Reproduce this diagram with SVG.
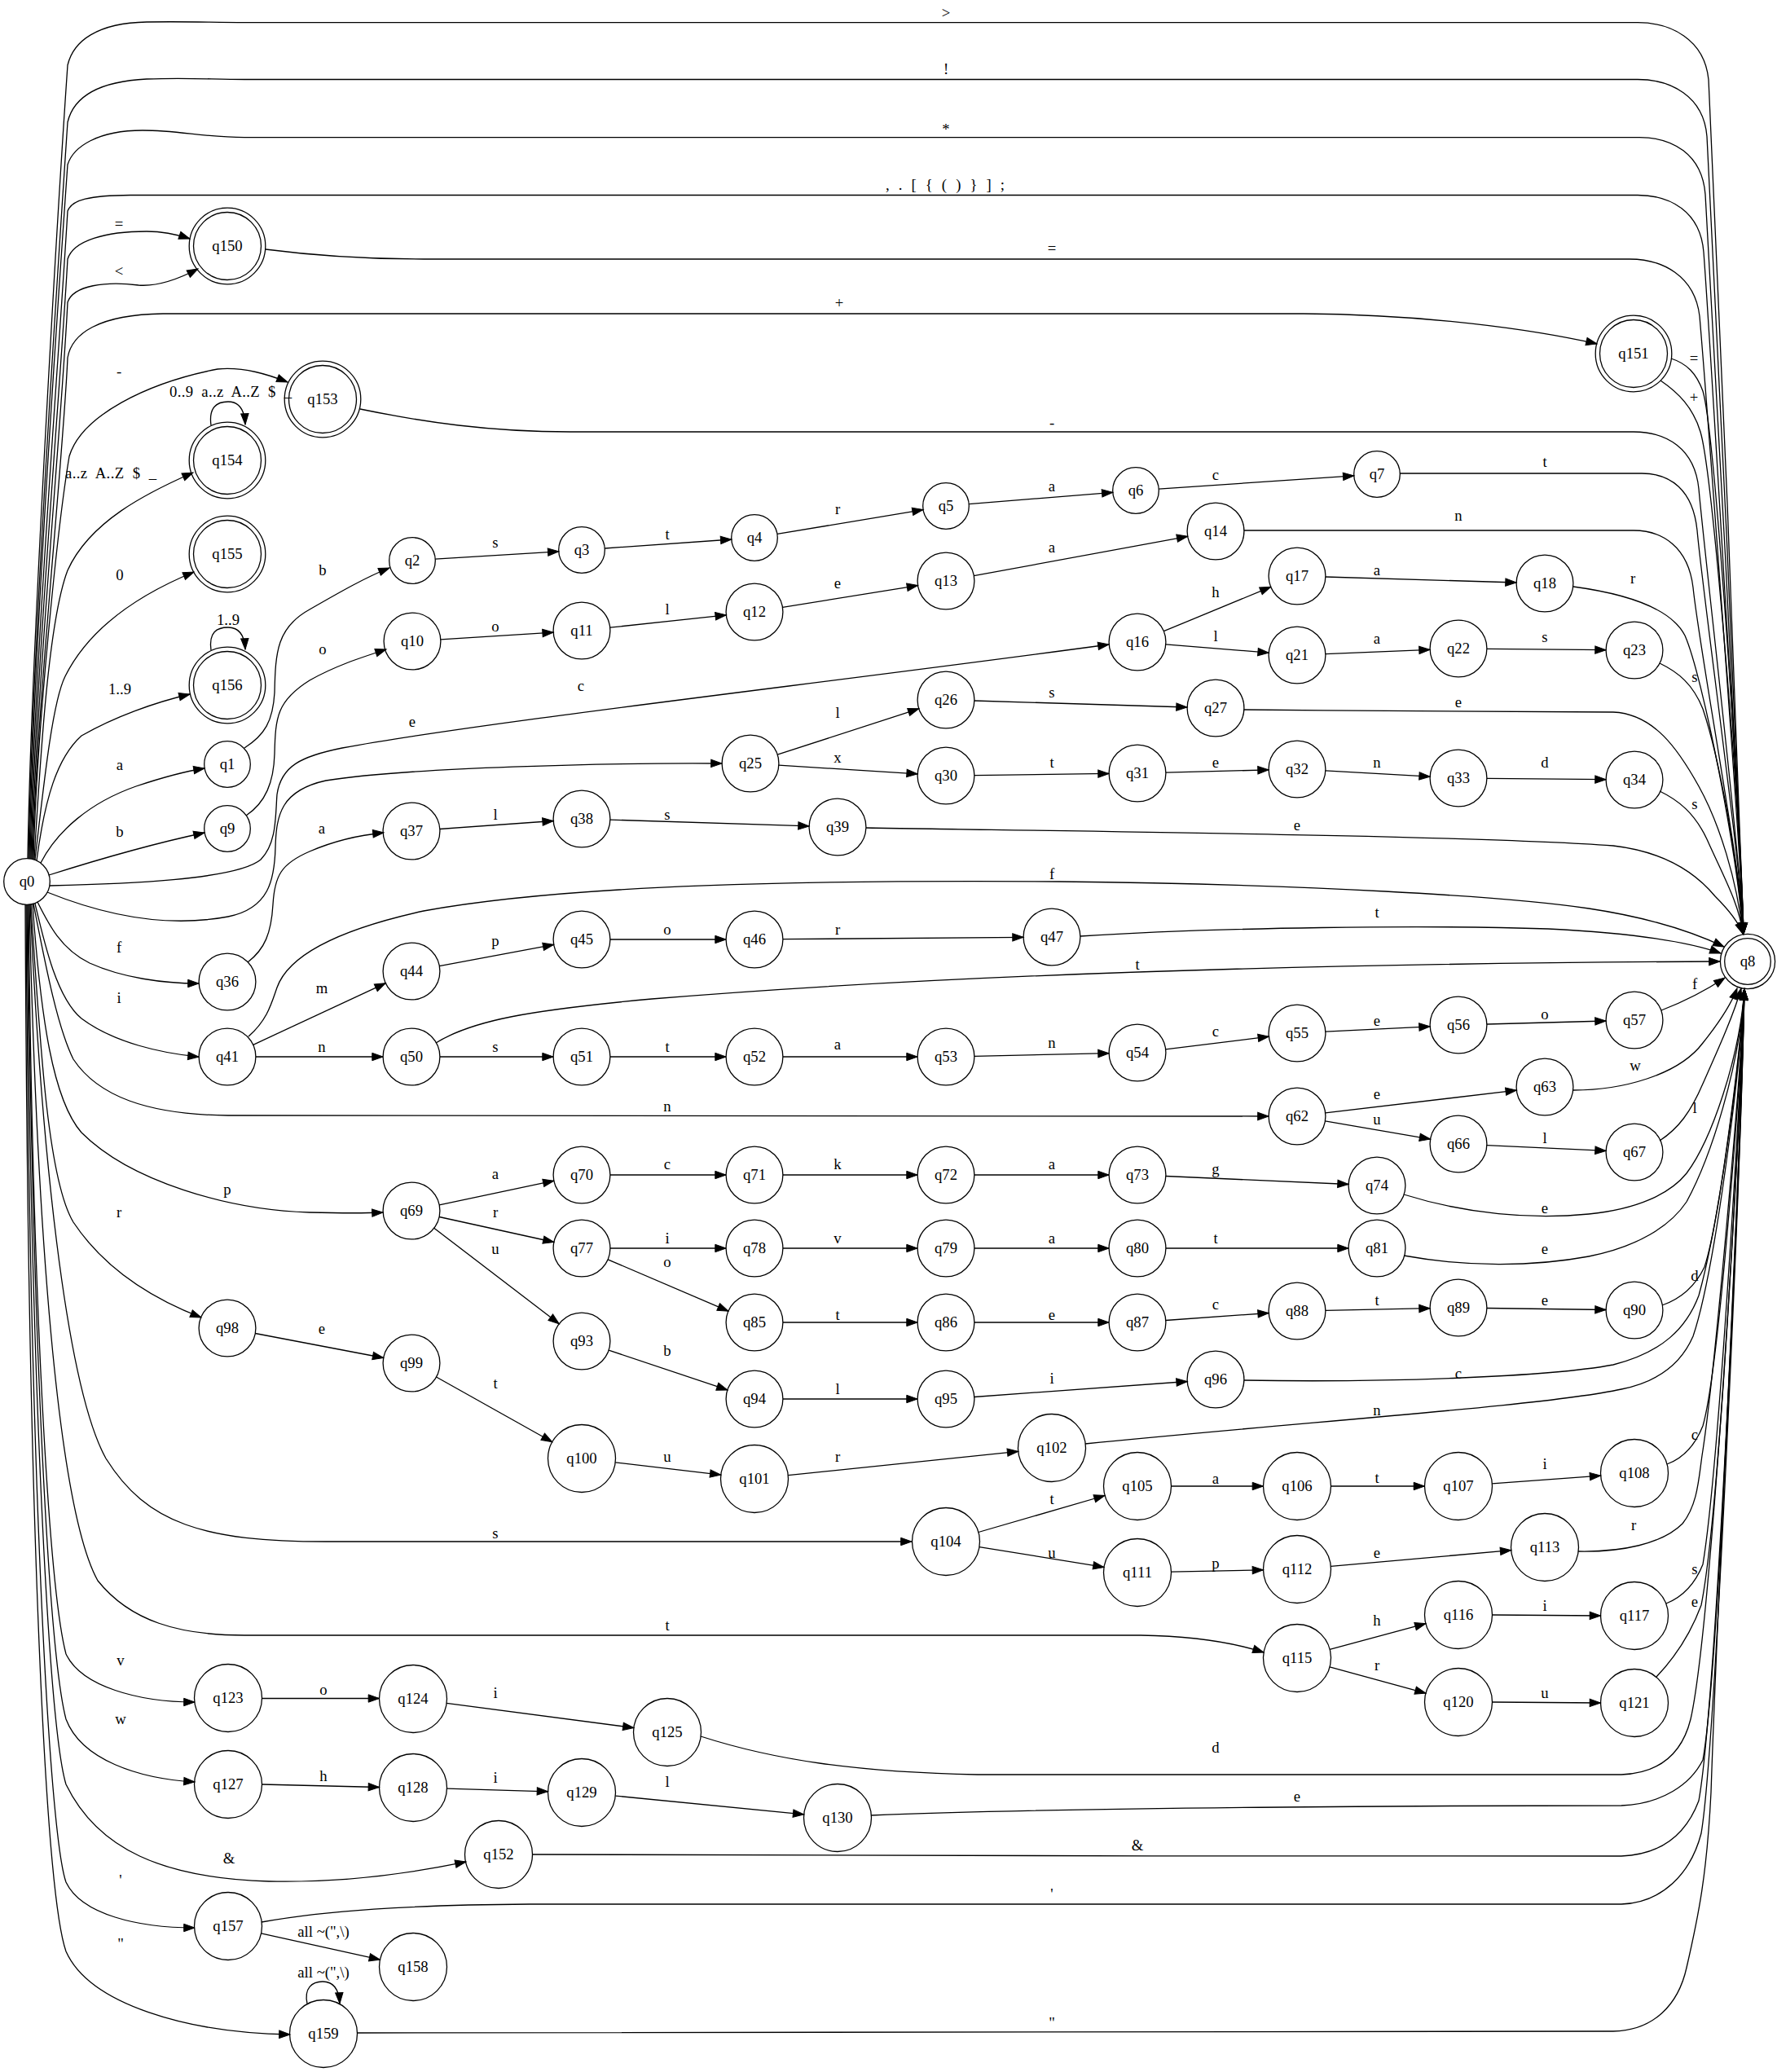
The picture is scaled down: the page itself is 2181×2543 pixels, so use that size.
<svg xmlns="http://www.w3.org/2000/svg" width="2181" height="2543" viewBox="0 0 2181 2543">
<defs>
<style>
.node circle{fill:none;stroke:#000;stroke-width:1.3}
.edge path{fill:none;stroke:#000;stroke-width:1.3;marker-end:url(#arr)}
.edge path.loop{marker-end:url(#arr)}
text{font-family:"Liberation Serif","Times New Roman",serif;font-size:18.7px;fill:#000}
.node text,.edge text{text-anchor:middle}
.edge text.st{text-anchor:start;white-space:pre}
</style>
<marker id="arr" viewBox="0 0 14 10" refX="13.3" refY="4.7" markerWidth="14" markerHeight="10" markerUnits="userSpaceOnUse" orient="auto" overflow="visible"><path d="M0,0 L13.3,4.7 L0,9.4 Z" fill="#000" stroke="#000" stroke-width="1"/></marker>
</defs>
<rect width="2181" height="2543" fill="#fff"/>
<g id="connectors">
<g class="edge"><path d="M34,1054 C38,800 72,240 83,80 C90,50 120,28 180,27 C230,26 260,27.7 300,27.7 L2010,27.7 C2050,27.7 2092,47.7 2097,97.7 C2103,177.7 2139,1080 2140,1146"/><text x="1161" y="22">&gt;</text></g>
<g class="edge"><path d="M35,1054 C39,800 73,300 83,150 C90,120 120,100 180,97 C230,95 260,97.5 300,97.5 L2010,97.5 C2050,97.5 2091,117.5 2095,167.5 C2101,247.5 2139,1080 2140,1146"/><text x="1161" y="91">!</text></g>
<g class="edge"><path d="M36,1054 C40,820 74,330 83,202 C90,180 120,160 175,160 C220,160 250,168.6 300,168.6 L2012,168.6 C2052,168.6 2089,188.6 2093,238.6 C2099,318.6 2139,1080 2140,1146"/><text x="1161" y="165">*</text></g>
<g class="edge"><path d="M37,1054 C41,830 75,400 83,259 C88,245 110,240 160,239.5 L2010,239.5 C2050,239.5 2087,259.5 2091,309.5 C2097,389.5 2139,1080 2140,1146"/><text class="st" x="1087" y="233" textLength="146" lengthAdjust="spacing">,  .  [  {  (  )  }  ]  ;</text></g>
<g class="edge"><path d="M38,1054 C42,850 76,450 83,318 C90,295 130,284 180,284 C200,284 215,287 233,293"/><text x="146" y="281">=</text></g>
<g class="edge"><path d="M39,1054 C43,870 77,500 83,371 C90,350 130,345 170,350 C195,352 220,342 243,330"/><text x="146" y="339">&lt;</text></g>
<g class="edge"><path d="M40,1054 C44,880 78,560 83,439 C88,410 120,386 200,385 L1600,385 C1750,386 1880,404 1960,422"/><text x="1030" y="378">+</text></g>
<g class="edge"><path d="M41,1055 C45,900 70,650 85,560 C100,510 180,470 267,453 C300,450 330,460 353,469"/><text x="146" y="462">-</text></g>
<g class="edge"><path d="M42,1055 C50,920 60,760 83,700 C110,640 180,605 237,580"/><text class="st" x="80" y="587" textLength="112" lengthAdjust="spacing">a..z  A..Z  $  _</text></g>
<g class="edge"><path d="M43,1055 C55,950 65,860 80,830 C110,770 170,730 238,702"/><text x="147" y="712">0</text></g>
<g class="edge"><path d="M45,1056 C55,980 70,930 100,903 C140,880 190,862 233,852"/><text x="147" y="852">1..9</text></g>
<g class="edge"><path d="M50,1059 C70,1020 110,985 167,965 C200,954 225,947 251,943"/><text x="147" y="945">a</text></g>
<g class="edge"><path d="M60,1074 C120,1055 190,1035 251,1022"/><text x="147" y="1027">b</text></g>
<g class="edge"><path d="M61,1087 C150,1085 290,1080 320,1055 C340,1035 338,1000 340,975 C345,940 370,928 420,918 C600,885 1000,840 1361,791"/><text x="713" y="848">c</text></g>
<g class="edge"><path d="M58,1095 C120,1120 200,1140 280,1125 C330,1115 337,1080 338,1040 C339,1000 345,970 400,958 C500,942 750,936 886,937"/><text x="506" y="892">e</text></g>
<g class="edge"><path d="M46,1107 C60,1135 75,1165 110,1182 C150,1200 200,1207 244,1207"/><text x="146" y="1169">f</text></g>
<g class="edge"><path d="M43,1109 C55,1160 70,1225 100,1250 C140,1280 200,1293 244,1297"/><text x="146" y="1231">i</text></g>
<g class="edge"><path d="M41,1109 C55,1180 70,1260 90,1300 C120,1345 180,1368 280,1369 L1557,1370"/><text x="819" y="1364">n</text></g>
<g class="edge"><path d="M40,1110 C50,1250 65,1350 100,1390 C160,1450 280,1485 380,1488 C420,1489 450,1489 470,1488"/><text x="279" y="1466">p</text></g>
<g class="edge"><path d="M38,1110 C50,1300 60,1450 90,1500 C130,1560 190,1595 247,1617"/><text x="146" y="1494">r</text></g>
<g class="edge"><path d="M37,1110 C50,1400 80,1700 130,1790 C180,1870 250,1892 400,1892 L1119,1892"/><text x="608" y="1888">s</text></g>
<g class="edge"><path d="M36,1110 C45,1500 70,1850 120,1940 C160,1990 220,2007 300,2007 L1400,2007 C1470,2008 1520,2018 1551,2028"/><text x="819" y="2001">t</text></g>
<g class="edge"><path d="M35,1110 C40,1600 60,1950 81,2030 C100,2070 170,2089 239,2089"/><text x="148" y="2044">v</text></g>
<g class="edge"><path d="M34,1110 C40,1650 60,2030 81,2110 C100,2160 170,2183 239,2187"/><text x="148" y="2116">w</text></g>
<g class="edge"><path d="M33,1110 C38,1700 60,2120 81,2190 C120,2270 200,2305 330,2309 C420,2311 500,2300 572,2285"/><text x="281" y="2287">&amp;</text></g>
<g class="edge"><path d="M32,1110 C36,1800 60,2250 81,2310 C100,2350 170,2366 239,2366"/><text x="148" y="2314">'</text></g>
<g class="edge"><path d="M31,1110 C34,1850 55,2320 81,2395 C110,2460 230,2495 356,2497"/><text x="148" y="2392">"</text></g>

<g class="edge"><path d="M326,306 C380,313 440,318 520,318 L2000,318 C2040,318 2080,338 2086,388 C2093,470 2139,1080 2140,1146"/><text x="1291" y="311">=</text></g>
<g class="edge"><path d="M2051,440 C2070,446 2082,458 2090,480 C2105,530 2136,1000 2140,1146"/><text x="2079" y="446">=</text></g>
<g class="edge"><path d="M2038,467 C2060,482 2078,500 2087,530 C2102,580 2136,1000 2140,1146"/><text x="2079" y="494">+</text></g>
<g class="edge"><path d="M442,502 C520,518 600,530 700,530 L2005,530 C2045,530 2080,550 2085,600 C2092,680 2139,1080 2140,1146"/><text x="1291" y="525">-</text></g>
<g class="edge"><path class="loop" d="M259,522 C256,500 266,493 280,493 C292,493 300,500 301,521"/><text class="st" x="208" y="487" textLength="150" lengthAdjust="spacing">0..9  a..z  A..Z  $  _</text></g>
<g class="edge"><path class="loop" d="M259,798 C256,776 266,770 280,770 C292,770 300,777 301,797"/><text x="280" y="767">1..9</text></g>

<g class="edge"><path d="M300,918 C325,902 335,885 337,850 C338,800 340,770 380,748 C420,725 450,708 478,697"/><text x="396" y="706">b</text></g>
<g class="edge"><path d="M534.2,686.2 L685.8,676.8"/><text x="608" y="672">s</text></g>
<g class="edge"><path d="M742.2,673 L897.8,662"/><text x="819" y="662">t</text></g>
<g class="edge"><path d="M953.9,655.4 L1133.1,625.6"/><text x="1028" y="631">r</text></g>
<g class="edge"><path d="M1189.2,618.7 L1365.8,604.3"/><text x="1291" y="603">a</text></g>
<g class="edge"><path d="M1422.2,600.1 L1661.8,583.9"/><text x="1492" y="589">c</text></g>
<g class="edge"><path d="M1718,581 L2015,581 C2050,581 2078,601 2083,651 C2090,730 2139,1080 2140,1146"/><text x="1896" y="573">t</text></g>

<g class="edge"><path d="M302,1001 C326,985 336,960 337,925 C338,880 340,860 380,835 C410,818 440,808 474,797"/><text x="396" y="803">o</text></g>
<g class="edge"><path d="M540.8,784.8 L679.2,776.2"/><text x="608" y="775">o</text></g>
<g class="edge"><path d="M748.7,770.2 L891.3,754.8"/><text x="819" y="754">l</text></g>
<g class="edge"><path d="M960.5,745.4 L1126.5,718.6"/><text x="1028" y="722">e</text></g>
<g class="edge"><path d="M1195.3,706.7 L1457.7,658.3"/><text x="1291" y="678">a</text></g>
<g class="edge"><path d="M1527,651 L2005,651 C2040,651 2072,671 2078,721 C2086,800 2139,1080 2140,1146"/><text x="1790" y="639">n</text></g>

<g class="edge"><path d="M1428.3,774.7 L1559.7,720.3"/><text x="1492" y="733">h</text></g>
<g class="edge"><path d="M1430.8,790.8 L1557.2,801.2"/><text x="1492" y="787">l</text></g>
<g class="edge"><path d="M1626.9,708 L1861.1,715"/><text x="1690" y="706">a</text></g>
<g class="edge"><path d="M1931,720 C1990,728 2050,745 2068,780 C2090,830 2133,1050 2139,1146"/><text x="2004" y="716">r</text></g>
<g class="edge"><path d="M1626.9,802.6 L1755.1,797.4"/><text x="1690" y="790">a</text></g>
<g class="edge"><path d="M1824.9,796.3 L1971.1,797.7"/><text x="1896" y="788">s</text></g>
<g class="edge"><path d="M2037,814 C2060,825 2078,840 2090,870 C2110,930 2134,1060 2139,1146"/><text x="2080" y="837">s</text></g>

<g class="edge"><path d="M954.2,926.2 L1127.8,869.8"/><text x="1028" y="881">l</text></g>
<g class="edge"><path d="M955.8,939.2 L1126.2,949.8"/><text x="1028" y="936">x</text></g>
<g class="edge"><path d="M1195.9,860 L1457.1,868"/><text x="1291" y="856">s</text></g>
<g class="edge"><path d="M1527,871 C1700,873 1900,873 1980,874 C2030,876 2060,920 2085,965 C2110,1010 2132,1080 2139,1146"/><text x="1790" y="868">e</text></g>
<g class="edge"><path d="M1195.9,951.6 L1361.1,949.4"/><text x="1291" y="942">t</text></g>
<g class="edge"><path d="M1430.9,948.1 L1557.1,944.9"/><text x="1492" y="942">e</text></g>
<g class="edge"><path d="M1626.8,945.9 L1755.2,953.1"/><text x="1690" y="942">n</text></g>
<g class="edge"><path d="M1824.9,955.3 L1971.1,956.7"/><text x="1896" y="942">d</text></g>
<g class="edge"><path d="M2037,971 C2060,982 2080,998 2095,1030 C2115,1075 2135,1110 2139,1146"/><text x="2080" y="993">s</text></g>

<g class="edge"><path d="M304,1181 C325,1165 333,1145 335,1110 C337,1075 345,1060 380,1045 C410,1032 440,1025 471,1022"/><text x="395" y="1023">a</text></g>
<g class="edge"><path d="M539.8,1017.5 L679.2,1007.5"/><text x="608" y="1006">l</text></g>
<g class="edge"><path d="M748.9,1006.1 L993.1,1013.9"/><text x="819" y="1006">s</text></g>
<g class="edge"><path d="M1063,1016 C1300,1020 1800,1025 1980,1038 C2040,1045 2080,1070 2105,1100 C2125,1120 2135,1135 2139,1146"/><text x="1592" y="1019">e</text></g>

<g class="edge"><path d="M305,1272 C328,1252 333,1232 340,1212 C355,1170 420,1140 520,1118 C700,1085 1000,1080 1300,1082 C1600,1085 1850,1100 1950,1115 C2030,1127 2080,1145 2116,1162"/><text x="1291" y="1079">f</text></g>
<g class="edge"><path d="M310.7,1282.3 L473.3,1206.7"/><text x="395" y="1219">m</text></g>
<g class="edge"><path d="M313.9,1297 L470.1,1297"/><text x="395" y="1291">n</text></g>
<g class="edge"><path d="M539.3,1185.6 L679.7,1159.4"/><text x="608" y="1161">p</text></g>
<g class="edge"><path d="M748.9,1153 L891.1,1153"/><text x="819" y="1147">o</text></g>
<g class="edge"><path d="M960.9,1152.7 L1256.1,1150.3"/><text x="1028" y="1147">r</text></g>
<g class="edge"><path d="M1326,1149 C1500,1138 1750,1135 1900,1140 C2000,1145 2070,1155 2112,1170"/><text x="1690" y="1126">t</text></g>
<g class="edge"><path d="M535,1280 C580,1252 650,1240 800,1226 C1200,1193 1700,1182 2111,1180"/><text x="1396" y="1190">t</text></g>
<g class="edge"><path d="M539.9,1297 L679.1,1297"/><text x="608" y="1291">s</text></g>
<g class="edge"><path d="M748.9,1297 L891.1,1297"/><text x="819" y="1291">t</text></g>
<g class="edge"><path d="M960.9,1297 L1126.1,1297"/><text x="1028" y="1288">a</text></g>
<g class="edge"><path d="M1195.9,1296.3 L1361.1,1292.7"/><text x="1291" y="1286">n</text></g>
<g class="edge"><path d="M1430.6,1287.8 L1557.4,1272.2"/><text x="1492" y="1272">c</text></g>
<g class="edge"><path d="M1626.9,1266.2 L1755.1,1259.8"/><text x="1690" y="1259">e</text></g>
<g class="edge"><path d="M1824.9,1257 L1971.1,1253"/><text x="1896" y="1251">o</text></g>
<g class="edge"><path d="M2039,1240 C2065,1230 2090,1218 2117,1200"/><text x="2080" y="1214">f</text></g>

<g class="edge"><path d="M1626.7,1365.9 L1861.3,1338.1"/><text x="1690" y="1349">e</text></g>
<g class="edge"><path d="M1626.4,1375.9 L1755.6,1398.1"/><text x="1690" y="1380">u</text></g>
<g class="edge"><path d="M1931,1338 C1990,1338 2060,1320 2090,1280 C2110,1255 2125,1232 2132,1213"/><text x="2007" y="1314">w</text></g>
<g class="edge"><path d="M1824.9,1405.6 L1971.1,1412.4"/><text x="1896" y="1403">l</text></g>
<g class="edge"><path d="M2037,1400 C2060,1385 2075,1365 2090,1330 C2110,1285 2128,1245 2137,1213"/><text x="2080" y="1366">l</text></g>

<g class="edge"><path d="M539.2,1478.8 L679.8,1449.2"/><text x="608" y="1447">a</text></g>
<g class="edge"><path d="M539.1,1493.5 L679.9,1524.5"/><text x="608" y="1494">r</text></g>
<g class="edge"><path d="M532.7,1507.2 L686.3,1624.8"/><text x="608" y="1539">u</text></g>
<g class="edge"><path d="M748.9,1442 L891.1,1442"/><text x="819" y="1435">c</text></g>
<g class="edge"><path d="M960.9,1442 L1126.1,1442"/><text x="1028" y="1435">k</text></g>
<g class="edge"><path d="M1195.9,1442 L1361.1,1442"/><text x="1291" y="1435">a</text></g>
<g class="edge"><path d="M1430.9,1443.5 L1655.1,1453.5"/><text x="1492" y="1441">g</text></g>
<g class="edge"><path d="M1723,1466 C1800,1490 1880,1497 1950,1490 C2010,1484 2050,1465 2070,1440 C2100,1400 2135,1300 2141,1214"/><text x="1896" y="1489">e</text></g>
<g class="edge"><path d="M748.9,1532 L891.1,1532"/><text x="819" y="1526">i</text></g>
<g class="edge"><path d="M746.1,1545.8 L893.9,1609.2"/><text x="819" y="1555">o</text></g>
<g class="edge"><path d="M960.9,1532 L1126.1,1532"/><text x="1028" y="1526">v</text></g>
<g class="edge"><path d="M1195.9,1532 L1361.1,1532"/><text x="1291" y="1526">a</text></g>
<g class="edge"><path d="M1430.9,1532 L1655.1,1532"/><text x="1492" y="1526">t</text></g>
<g class="edge"><path d="M1723,1541 C1800,1555 1880,1555 1950,1542 C2010,1530 2050,1505 2070,1475 C2100,1420 2135,1310 2141,1214"/><text x="1896" y="1539">e</text></g>
<g class="edge"><path d="M960.9,1623 L1126.1,1623"/><text x="1028" y="1620">t</text></g>
<g class="edge"><path d="M1195.9,1623 L1361.1,1623"/><text x="1291" y="1620">e</text></g>
<g class="edge"><path d="M1430.8,1620.5 L1557.2,1611.5"/><text x="1492" y="1607">c</text></g>
<g class="edge"><path d="M1626.9,1608.3 L1755.1,1605.7"/><text x="1690" y="1602">t</text></g>
<g class="edge"><path d="M1824.9,1605.5 L1971.1,1607.5"/><text x="1896" y="1602">e</text></g>
<g class="edge"><path d="M2040,1602 C2060,1595 2080,1580 2092,1555 C2110,1500 2135,1300 2141,1214"/><text x="2080" y="1572">d</text></g>
<g class="edge"><path d="M747.1,1657.1 L892.9,1705.9"/><text x="819" y="1664">b</text></g>
<g class="edge"><path d="M960.9,1717 L1126.1,1717"/><text x="1028" y="1711">l</text></g>
<g class="edge"><path d="M1195.8,1714.5 L1457.2,1695.5"/><text x="1291" y="1698">i</text></g>
<g class="edge"><path d="M1527,1694 C1700,1697 1900,1690 1980,1675 C2040,1660 2070,1630 2085,1590 C2110,1500 2135,1310 2141,1214"/><text x="1790" y="1692">c</text></g>

<g class="edge"><path d="M313.3,1636.5 L470.7,1666.5"/><text x="395" y="1637">e</text></g>
<g class="edge"><path d="M535.5,1690 L677.8,1769.7"/><text x="608" y="1704">t</text></g>
<g class="edge"><path d="M755.2,1794.9 L884.8,1810.1"/><text x="819" y="1794">u</text></g>
<g class="edge"><path d="M967.3,1810.7 L1249.7,1781.3"/><text x="1028" y="1794">r</text></g>
<g class="edge"><path d="M1332,1772 C1600,1745 1900,1725 1990,1705 C2040,1695 2065,1670 2078,1640 C2105,1560 2135,1320 2141,1214"/><text x="1690" y="1737">n</text></g>

<g class="edge"><path d="M1200.9,1880.5 L1356.1,1835.5"/><text x="1291" y="1846">t</text></g>
<g class="edge"><path d="M1202,1898.6 L1355,1923.4"/><text x="1291" y="1912">u</text></g>
<g class="edge"><path d="M1437.5,1824 L1550.5,1824"/><text x="1492" y="1821">a</text></g>
<g class="edge"><path d="M1633.5,1824 L1748.5,1824"/><text x="1690" y="1820">t</text></g>
<g class="edge"><path d="M1831.4,1820.9 L1964.6,1811.1"/><text x="1896" y="1803">i</text></g>
<g class="edge"><path d="M2046,1797 C2065,1790 2080,1775 2090,1750 C2110,1680 2136,1330 2141,1214"/><text x="2080" y="1767">c</text></g>
<g class="edge"><path d="M1437.5,1929.2 L1550.5,1926.8"/><text x="1492" y="1925">p</text></g>
<g class="edge"><path d="M1633.3,1922.3 L1854.7,1902.7"/><text x="1690" y="1912">e</text></g>
<g class="edge"><path d="M1937,1904 C1990,1905 2040,1895 2065,1870 C2085,1845 2085,1810 2090,1780 C2105,1680 2136,1330 2141,1214"/><text x="2005" y="1878">r</text></g>

<g class="edge"><path d="M1632.1,2024.3 L1749.9,1992.7"/><text x="1690" y="1995">h</text></g>
<g class="edge"><path d="M1632,2045.9 L1750,2078.1"/><text x="1690" y="2050">r</text></g>
<g class="edge"><path d="M1831.5,1982 L1964.5,1983"/><text x="1896" y="1977">i</text></g>
<g class="edge"><path d="M2045,1968 C2065,1960 2080,1945 2090,1920 C2110,1800 2136,1340 2141,1214"/><text x="2080" y="1932">s</text></g>
<g class="edge"><path d="M1831.5,2089 L1964.5,2090"/><text x="1896" y="2084">u</text></g>
<g class="edge"><path d="M2033,2058 C2055,2035 2075,2005 2088,1970 C2112,1850 2136,1350 2141,1214"/><text x="2080" y="1972">e</text></g>

<g class="edge"><path d="M321.5,2084.5 L465.5,2084.5"/><text x="397" y="2080">o</text></g>
<g class="edge"><path d="M548.1,2090.4 L777.9,2120.6"/><text x="608" y="2084">i</text></g>
<g class="edge"><path d="M860,2131 C950,2160 1050,2175 1200,2178 L1990,2178 C2040,2176 2065,2150 2075,2110 C2100,2000 2136,1400 2141,1214"/><text x="1492" y="2151">d</text></g>
<g class="edge"><path d="M321.5,2190 L465.5,2193.5"/><text x="397" y="2186">h</text></g>
<g class="edge"><path d="M548.5,2195.2 L672.5,2198.8"/><text x="608" y="2188">i</text></g>
<g class="edge"><path d="M755.3,2204.1 L986.7,2226.9"/><text x="819" y="2193">l</text></g>
<g class="edge"><path d="M1069,2228 C1300,2218 1800,2216 1990,2216 C2040,2214 2075,2190 2090,2160 C2110,2050 2136,1400 2141,1214"/><text x="1592" y="2211">e</text></g>
<g class="edge"><path d="M654,2276 C900,2278 1600,2278 1990,2278 C2040,2276 2070,2250 2085,2210 C2105,2100 2136,1450 2141,1214"/><text x="1396" y="2271">&amp;</text></g>
<g class="edge"><path d="M321,2359 C400,2345 500,2338 650,2337 L1990,2337 C2040,2335 2075,2300 2088,2250 C2105,2150 2136,1450 2141,1214"/><text x="1291" y="2331">'</text></g>
<g class="edge"><path d="M320.5,2372.9 L466.5,2405.1"/><text x="397" y="2377">all ~(",\)</text></g>
<g class="edge"><path class="loop" d="M377,2459 C373,2440 383,2432 396,2432 C408,2432 416,2440 417,2459"/><text x="397" y="2427">all ~(",\)</text></g>
<g class="edge"><path d="M438,2495 L1980,2493 C2030,2492 2060,2460 2070,2415 C2085,2350 2095,2300 2100,2200 C2110,1900 2136,1450 2141,1214"/><text x="1291" y="2489">"</text></g>
</g>
<g id="nodes">
<g class="node" id="q0"><circle cx="33" cy="1082" r="28.3"/><text x="33" y="1088">q0</text></g>
<g class="node" id="q8"><circle cx="2145" cy="1180" r="28.3"/><circle cx="2145" cy="1180" r="33.6"/><text x="2145" y="1186">q8</text></g>
<g class="node" id="q150"><circle cx="279" cy="302" r="41.5"/><circle cx="279" cy="302" r="46.8"/><text x="279" y="308">q150</text></g>
<g class="node" id="q151"><circle cx="2005" cy="434" r="41.5"/><circle cx="2005" cy="434" r="46.8"/><text x="2005" y="440">q151</text></g>
<g class="node" id="q153"><circle cx="396" cy="490" r="41.5"/><circle cx="396" cy="490" r="46.8"/><text x="396" y="496">q153</text></g>
<g class="node" id="q154"><circle cx="279" cy="565" r="41.5"/><circle cx="279" cy="565" r="46.8"/><text x="279" y="571">q154</text></g>
<g class="node" id="q155"><circle cx="279" cy="680" r="41.5"/><circle cx="279" cy="680" r="46.8"/><text x="279" y="686">q155</text></g>
<g class="node" id="q156"><circle cx="279" cy="841" r="41.5"/><circle cx="279" cy="841" r="46.8"/><text x="279" y="847">q156</text></g>
<g class="node" id="q1"><circle cx="279" cy="938" r="28.3"/><text x="279" y="944">q1</text></g>
<g class="node" id="q9"><circle cx="279" cy="1017" r="28.3"/><text x="279" y="1023">q9</text></g>
<g class="node" id="q36"><circle cx="279" cy="1205" r="34.9"/><text x="279" y="1211">q36</text></g>
<g class="node" id="q41"><circle cx="279" cy="1297" r="34.9"/><text x="279" y="1303">q41</text></g>
<g class="node" id="q98"><circle cx="279" cy="1630" r="34.9"/><text x="279" y="1636">q98</text></g>
<g class="node" id="q123"><circle cx="280" cy="2084" r="41.5"/><text x="280" y="2090">q123</text></g>
<g class="node" id="q127"><circle cx="280" cy="2190" r="41.5"/><text x="280" y="2196">q127</text></g>
<g class="node" id="q157"><circle cx="280" cy="2364" r="41.5"/><text x="280" y="2370">q157</text></g>
<g class="node" id="q159"><circle cx="397" cy="2496" r="41.5"/><text x="397" y="2502">q159</text></g>
<g class="node" id="q158"><circle cx="507" cy="2414" r="41.5"/><text x="507" y="2420">q158</text></g>
<g class="node" id="q152"><circle cx="612" cy="2276" r="41.5"/><text x="612" y="2282">q152</text></g>
<g class="node" id="q2"><circle cx="506" cy="688" r="28.3"/><text x="506" y="694">q2</text></g>
<g class="node" id="q3"><circle cx="714" cy="675" r="28.3"/><text x="714" y="681">q3</text></g>
<g class="node" id="q4"><circle cx="926" cy="660" r="28.3"/><text x="926" y="666">q4</text></g>
<g class="node" id="q5"><circle cx="1161" cy="621" r="28.3"/><text x="1161" y="627">q5</text></g>
<g class="node" id="q6"><circle cx="1394" cy="602" r="28.3"/><text x="1394" y="608">q6</text></g>
<g class="node" id="q7"><circle cx="1690" cy="582" r="28.3"/><text x="1690" y="588">q7</text></g>
<g class="node" id="q10"><circle cx="506" cy="787" r="34.9"/><text x="506" y="793">q10</text></g>
<g class="node" id="q11"><circle cx="714" cy="774" r="34.9"/><text x="714" y="780">q11</text></g>
<g class="node" id="q12"><circle cx="926" cy="751" r="34.9"/><text x="926" y="757">q12</text></g>
<g class="node" id="q13"><circle cx="1161" cy="713" r="34.9"/><text x="1161" y="719">q13</text></g>
<g class="node" id="q14"><circle cx="1492" cy="652" r="34.9"/><text x="1492" y="658">q14</text></g>
<g class="node" id="q16"><circle cx="1396" cy="788" r="34.9"/><text x="1396" y="794">q16</text></g>
<g class="node" id="q17"><circle cx="1592" cy="707" r="34.9"/><text x="1592" y="713">q17</text></g>
<g class="node" id="q18"><circle cx="1896" cy="716" r="34.9"/><text x="1896" y="722">q18</text></g>
<g class="node" id="q21"><circle cx="1592" cy="804" r="34.9"/><text x="1592" y="810">q21</text></g>
<g class="node" id="q22"><circle cx="1790" cy="796" r="34.9"/><text x="1790" y="802">q22</text></g>
<g class="node" id="q23"><circle cx="2006" cy="798" r="34.9"/><text x="2006" y="804">q23</text></g>
<g class="node" id="q25"><circle cx="921" cy="937" r="34.9"/><text x="921" y="943">q25</text></g>
<g class="node" id="q26"><circle cx="1161" cy="859" r="34.9"/><text x="1161" y="865">q26</text></g>
<g class="node" id="q27"><circle cx="1492" cy="869" r="34.9"/><text x="1492" y="875">q27</text></g>
<g class="node" id="q30"><circle cx="1161" cy="952" r="34.9"/><text x="1161" y="958">q30</text></g>
<g class="node" id="q31"><circle cx="1396" cy="949" r="34.9"/><text x="1396" y="955">q31</text></g>
<g class="node" id="q32"><circle cx="1592" cy="944" r="34.9"/><text x="1592" y="950">q32</text></g>
<g class="node" id="q33"><circle cx="1790" cy="955" r="34.9"/><text x="1790" y="961">q33</text></g>
<g class="node" id="q34"><circle cx="2006" cy="957" r="34.9"/><text x="2006" y="963">q34</text></g>
<g class="node" id="q37"><circle cx="505" cy="1020" r="34.9"/><text x="505" y="1026">q37</text></g>
<g class="node" id="q38"><circle cx="714" cy="1005" r="34.9"/><text x="714" y="1011">q38</text></g>
<g class="node" id="q39"><circle cx="1028" cy="1015" r="34.9"/><text x="1028" y="1021">q39</text></g>
<g class="node" id="q44"><circle cx="505" cy="1192" r="34.9"/><text x="505" y="1198">q44</text></g>
<g class="node" id="q45"><circle cx="714" cy="1153" r="34.9"/><text x="714" y="1159">q45</text></g>
<g class="node" id="q46"><circle cx="926" cy="1153" r="34.9"/><text x="926" y="1159">q46</text></g>
<g class="node" id="q47"><circle cx="1291" cy="1150" r="34.9"/><text x="1291" y="1156">q47</text></g>
<g class="node" id="q50"><circle cx="505" cy="1297" r="34.9"/><text x="505" y="1303">q50</text></g>
<g class="node" id="q51"><circle cx="714" cy="1297" r="34.9"/><text x="714" y="1303">q51</text></g>
<g class="node" id="q52"><circle cx="926" cy="1297" r="34.9"/><text x="926" y="1303">q52</text></g>
<g class="node" id="q53"><circle cx="1161" cy="1297" r="34.9"/><text x="1161" y="1303">q53</text></g>
<g class="node" id="q54"><circle cx="1396" cy="1292" r="34.9"/><text x="1396" y="1298">q54</text></g>
<g class="node" id="q55"><circle cx="1592" cy="1268" r="34.9"/><text x="1592" y="1274">q55</text></g>
<g class="node" id="q56"><circle cx="1790" cy="1258" r="34.9"/><text x="1790" y="1264">q56</text></g>
<g class="node" id="q57"><circle cx="2006" cy="1252" r="34.9"/><text x="2006" y="1258">q57</text></g>
<g class="node" id="q62"><circle cx="1592" cy="1370" r="34.9"/><text x="1592" y="1376">q62</text></g>
<g class="node" id="q63"><circle cx="1896" cy="1334" r="34.9"/><text x="1896" y="1340">q63</text></g>
<g class="node" id="q66"><circle cx="1790" cy="1404" r="34.9"/><text x="1790" y="1410">q66</text></g>
<g class="node" id="q67"><circle cx="2006" cy="1414" r="34.9"/><text x="2006" y="1420">q67</text></g>
<g class="node" id="q69"><circle cx="505" cy="1486" r="34.9"/><text x="505" y="1492">q69</text></g>
<g class="node" id="q70"><circle cx="714" cy="1442" r="34.9"/><text x="714" y="1448">q70</text></g>
<g class="node" id="q71"><circle cx="926" cy="1442" r="34.9"/><text x="926" y="1448">q71</text></g>
<g class="node" id="q72"><circle cx="1161" cy="1442" r="34.9"/><text x="1161" y="1448">q72</text></g>
<g class="node" id="q73"><circle cx="1396" cy="1442" r="34.9"/><text x="1396" y="1448">q73</text></g>
<g class="node" id="q74"><circle cx="1690" cy="1455" r="34.9"/><text x="1690" y="1461">q74</text></g>
<g class="node" id="q77"><circle cx="714" cy="1532" r="34.9"/><text x="714" y="1538">q77</text></g>
<g class="node" id="q78"><circle cx="926" cy="1532" r="34.9"/><text x="926" y="1538">q78</text></g>
<g class="node" id="q79"><circle cx="1161" cy="1532" r="34.9"/><text x="1161" y="1538">q79</text></g>
<g class="node" id="q80"><circle cx="1396" cy="1532" r="34.9"/><text x="1396" y="1538">q80</text></g>
<g class="node" id="q81"><circle cx="1690" cy="1532" r="34.9"/><text x="1690" y="1538">q81</text></g>
<g class="node" id="q85"><circle cx="926" cy="1623" r="34.9"/><text x="926" y="1629">q85</text></g>
<g class="node" id="q86"><circle cx="1161" cy="1623" r="34.9"/><text x="1161" y="1629">q86</text></g>
<g class="node" id="q87"><circle cx="1396" cy="1623" r="34.9"/><text x="1396" y="1629">q87</text></g>
<g class="node" id="q88"><circle cx="1592" cy="1609" r="34.9"/><text x="1592" y="1615">q88</text></g>
<g class="node" id="q89"><circle cx="1790" cy="1605" r="34.9"/><text x="1790" y="1611">q89</text></g>
<g class="node" id="q90"><circle cx="2006" cy="1608" r="34.9"/><text x="2006" y="1614">q90</text></g>
<g class="node" id="q93"><circle cx="714" cy="1646" r="34.9"/><text x="714" y="1652">q93</text></g>
<g class="node" id="q94"><circle cx="926" cy="1717" r="34.9"/><text x="926" y="1723">q94</text></g>
<g class="node" id="q95"><circle cx="1161" cy="1717" r="34.9"/><text x="1161" y="1723">q95</text></g>
<g class="node" id="q96"><circle cx="1492" cy="1693" r="34.9"/><text x="1492" y="1699">q96</text></g>
<g class="node" id="q99"><circle cx="505" cy="1673" r="34.9"/><text x="505" y="1679">q99</text></g>
<g class="node" id="q100"><circle cx="714" cy="1790" r="41.5"/><text x="714" y="1796">q100</text></g>
<g class="node" id="q101"><circle cx="926" cy="1815" r="41.5"/><text x="926" y="1821">q101</text></g>
<g class="node" id="q102"><circle cx="1291" cy="1777" r="41.5"/><text x="1291" y="1783">q102</text></g>
<g class="node" id="q104"><circle cx="1161" cy="1892" r="41.5"/><text x="1161" y="1898">q104</text></g>
<g class="node" id="q105"><circle cx="1396" cy="1824" r="41.5"/><text x="1396" y="1830">q105</text></g>
<g class="node" id="q106"><circle cx="1592" cy="1824" r="41.5"/><text x="1592" y="1830">q106</text></g>
<g class="node" id="q107"><circle cx="1790" cy="1824" r="41.5"/><text x="1790" y="1830">q107</text></g>
<g class="node" id="q108"><circle cx="2006" cy="1808" r="41.5"/><text x="2006" y="1814">q108</text></g>
<g class="node" id="q111"><circle cx="1396" cy="1930" r="41.5"/><text x="1396" y="1936">q111</text></g>
<g class="node" id="q112"><circle cx="1592" cy="1926" r="41.5"/><text x="1592" y="1932">q112</text></g>
<g class="node" id="q113"><circle cx="1896" cy="1899" r="41.5"/><text x="1896" y="1905">q113</text></g>
<g class="node" id="q115"><circle cx="1592" cy="2035" r="41.5"/><text x="1592" y="2041">q115</text></g>
<g class="node" id="q116"><circle cx="1790" cy="1982" r="41.5"/><text x="1790" y="1988">q116</text></g>
<g class="node" id="q117"><circle cx="2006" cy="1983" r="41.5"/><text x="2006" y="1989">q117</text></g>
<g class="node" id="q120"><circle cx="1790" cy="2089" r="41.5"/><text x="1790" y="2095">q120</text></g>
<g class="node" id="q121"><circle cx="2006" cy="2090" r="41.5"/><text x="2006" y="2096">q121</text></g>
<g class="node" id="q124"><circle cx="507" cy="2085" r="41.5"/><text x="507" y="2091">q124</text></g>
<g class="node" id="q125"><circle cx="819" cy="2126" r="41.5"/><text x="819" y="2132">q125</text></g>
<g class="node" id="q128"><circle cx="507" cy="2194" r="41.5"/><text x="507" y="2200">q128</text></g>
<g class="node" id="q129"><circle cx="714" cy="2200" r="41.5"/><text x="714" y="2206">q129</text></g>
<g class="node" id="q130"><circle cx="1028" cy="2231" r="41.5"/><text x="1028" y="2237">q130</text></g>
</g>
</svg>
